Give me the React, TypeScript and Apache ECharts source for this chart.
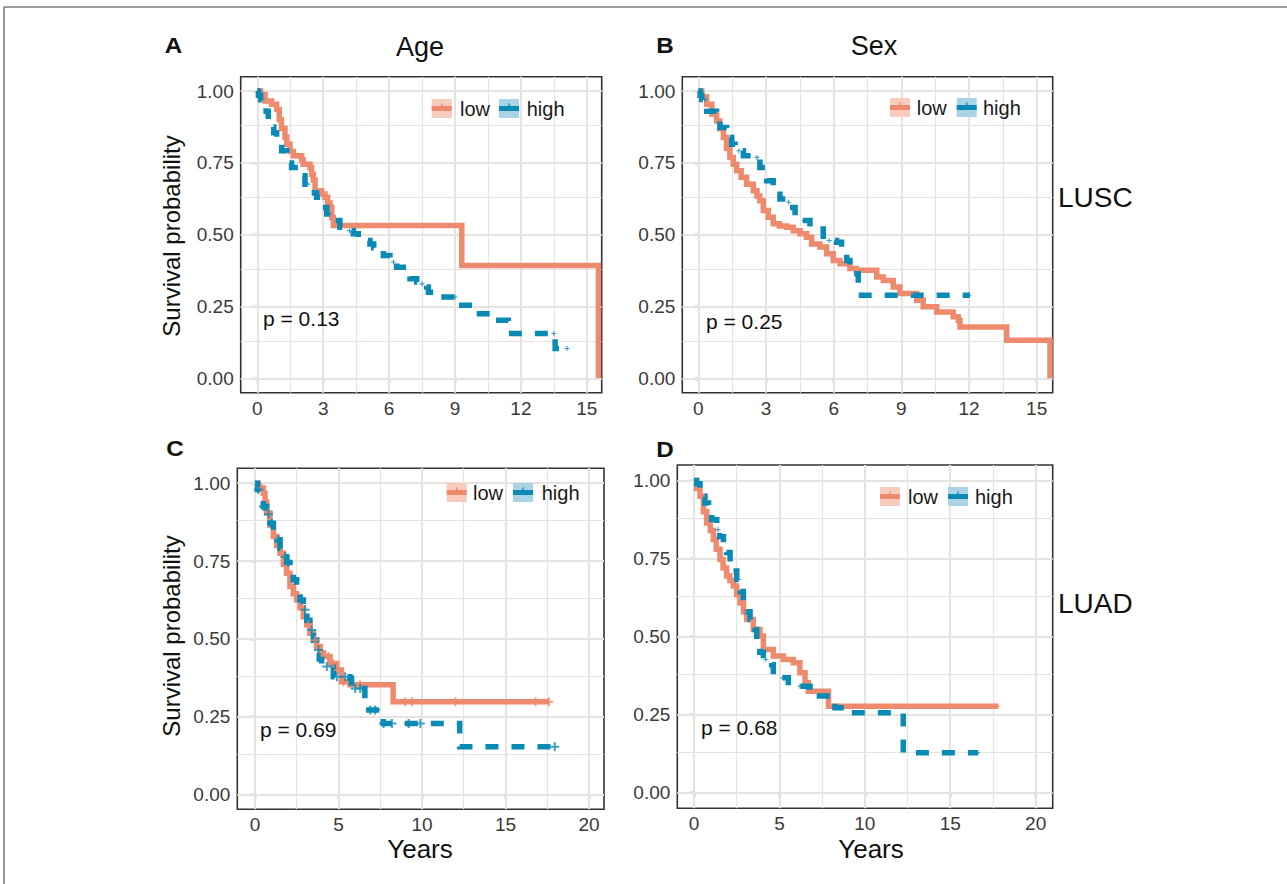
import React, { useEffect, useRef } from "react";
import * as echarts from "echarts";

const FONT = "'Liberation Sans', Arial, Helvetica, sans-serif";
const LOW = "#EE8A6E";
const HIGH = "#0A8BB5";
const LOW_LIGHT = "#F8CCBC";
const HIGH_LIGHT = "#A8D4E6";
const GRID = "#E7E3E1";

// ---- Data (time in years, survival probability) ----
const lowA = [[0,1],[0.15,0.988],[0.35,0.965],[0.65,0.954],[0.88,0.936],[1.0,0.9],[1.1,0.87],[1.26,0.84],[1.34,0.815],[1.49,0.79],[1.64,0.775],[2.02,0.76],[2.09,0.745],[2.4,0.734],[2.47,0.71],[2.55,0.69],[2.63,0.653],[2.93,0.642],[3.08,0.63],[3.2,0.61],[3.31,0.595],[3.39,0.56],[3.46,0.532],[9.31,0.393],[15.53,0.0]];
const highA = [[0,1],[0.05,0.985],[0.15,0.97],[0.27,0.95],[0.4,0.93],[0.5,0.9],[0.58,0.875],[0.75,0.855],[0.88,0.838],[1.0,0.815],[1.11,0.792],[1.34,0.769],[1.45,0.75],[1.56,0.734],[1.87,0.705],[2.17,0.676],[2.47,0.665],[2.6,0.645],[2.7,0.63],[2.93,0.595],[3.16,0.572],[3.46,0.549],[3.76,0.526],[4.07,0.514],[4.37,0.503],[4.6,0.49],[4.83,0.48],[5.13,0.468],[5.3,0.455],[5.43,0.445],[5.74,0.428],[6.04,0.405],[6.35,0.387],[6.65,0.364],[6.95,0.347],[7.26,0.335],[7.5,0.329],[7.71,0.318],[7.79,0.3],[8.32,0.283],[9.08,0.254],[9.91,0.225],[10.6,0.202],[11.43,0.156],[13.56,0.104],[14.1,0.104]];
const lowB = [[0,1],[0.15,0.98],[0.37,0.954],[0.6,0.92],[0.81,0.896],[0.95,0.87],[1.11,0.838],[1.25,0.8],[1.4,0.769],[1.55,0.745],[1.7,0.723],[1.9,0.7],[2.14,0.676],[2.44,0.653],[2.6,0.635],[2.73,0.618],[2.88,0.584],[3.1,0.561],[3.32,0.538],[3.6,0.53],[3.92,0.526],[4.21,0.514],[4.51,0.503],[4.8,0.491],[5.02,0.468],[5.39,0.457],[5.69,0.434],[5.98,0.41],[6.28,0.399],[6.72,0.382],[7.0,0.376],[7.91,0.353],[8.2,0.341],[8.64,0.318],[8.94,0.295],[9.68,0.272],[9.97,0.249],[10.57,0.231],[11.3,0.214],[11.52,0.202],[11.6,0.179],[13.67,0.133],[15.59,0.0]];
const highB = [[0,1],[0.08,0.985],[0.15,0.971],[0.37,0.93],[0.81,0.908],[0.96,0.873],[1.26,0.838],[1.48,0.815],[1.63,0.792],[2.0,0.775],[2.59,0.769],[2.73,0.734],[3.03,0.688],[3.32,0.653],[3.62,0.624],[3.99,0.613],[4.06,0.595],[4.29,0.566],[4.51,0.549],[4.95,0.52],[5.54,0.48],[6.13,0.474],[6.35,0.445],[6.58,0.41],[6.72,0.376],[6.75,0.364],[7.09,0.289],[12.04,0.289]];
const lowC = [[0,1],[0.2,0.985],[0.5,0.968],[0.6,0.94],[0.7,0.904],[0.9,0.865],[1.1,0.829],[1.3,0.8],[1.5,0.775],[1.7,0.74],[1.89,0.711],[2.09,0.668],[2.3,0.645],[2.49,0.625],[2.7,0.6],[2.89,0.571],[3.1,0.545],[3.29,0.518],[3.5,0.495],[3.69,0.475],[3.9,0.455],[4.09,0.443],[4.49,0.421],[4.89,0.4],[5.18,0.362],[5.68,0.352],[8.27,0.298],[17.6,0.298]];
const highC = [[0,1],[0.15,0.98],[0.3,0.957],[0.5,0.925],[0.7,0.9],[0.9,0.871],[1.1,0.845],[1.3,0.818],[1.5,0.79],[1.69,0.764],[1.9,0.745],[2.09,0.721],[2.3,0.69],[2.49,0.657],[2.7,0.625],[2.89,0.593],[3.1,0.56],[3.29,0.528],[3.5,0.495],[3.69,0.464],[3.85,0.435],[3.99,0.411],[4.69,0.378],[5.68,0.373],[5.78,0.34],[6.58,0.271],[7.68,0.228],[12.26,0.153],[17.95,0.153]];
const lowD = [[0,1],[0.15,0.975],[0.35,0.95],[0.55,0.9],[0.74,0.864],[0.95,0.84],[1.13,0.811],[1.3,0.78],[1.52,0.747],[1.7,0.72],[1.91,0.694],[2.1,0.68],[2.3,0.662],[2.5,0.635],[2.69,0.608],[2.9,0.58],[3.08,0.555],[3.47,0.523],[3.86,0.502],[4.06,0.459],[4.64,0.438],[5.23,0.427],[5.81,0.416],[6.2,0.384],[6.5,0.352],[6.69,0.325],[7.87,0.277],[17.81,0.277]];
const highD = [[0,1],[0.15,0.99],[0.35,0.977],[0.5,0.95],[0.64,0.928],[0.85,0.9],[1.03,0.875],[1.33,0.843],[1.5,0.82],[1.72,0.8],[1.9,0.77],[2.11,0.736],[2.3,0.71],[2.5,0.683],[2.7,0.645],[2.89,0.608],[3.1,0.58],[3.28,0.555],[3.57,0.523],[3.67,0.48],[3.85,0.45],[4.06,0.427],[4.55,0.41],[4.64,0.368],[5.52,0.341],[6.79,0.31],[8.25,0.272],[8.94,0.256],[12.25,0.128],[16.64,0.128]];

// censoring times
const censorLowA = [1.8, 2.2, 3.0, 4.0, 5.0, 15.0];
const censorHighA = [0.2, 1.2, 2.3, 3.3, 4.2, 5.2, 6.2, 7.5, 8.5, 9.0, 10.3, 11.0, 13.5, 14.1];
const censorLowB = [0.5, 2.0, 3.7, 5.5, 9.4];
const censorHighB = [0.3, 0.7, 1.2, 1.8, 2.6, 3.3, 4.0, 4.7, 5.8, 6.65, 7.3, 12.0];
const censorLowC = [0.4, 0.8, 1.2, 1.6, 2.0, 2.4, 2.8, 3.2, 3.6, 4.0, 4.4, 4.7, 5.0, 5.3, 6.3, 9.0, 9.4, 12.0, 16.8, 17.6];
const censorHighC = [0.2, 0.5, 0.8, 1.0, 1.4, 1.8, 2.0, 2.4, 2.8, 3.0, 3.4, 3.8, 4.3, 4.9, 5.4, 6.0, 6.3, 6.9, 7.2, 7.7, 8.2, 9.2, 9.9, 17.95];
const censorLowD = [0.5, 1.5, 3.0, 5.0, 17.8];
const censorHighD = [0.3, 0.8, 1.4, 2.0, 2.6, 3.2, 4.2, 5.2, 6.2, 8.6, 16.6];

const xTicksAB = [0, 3, 6, 9, 12, 15];
const xMinorAB = [1.5, 4.5, 7.5, 10.5, 13.5];
const xTicksCD = [0, 5, 10, 15, 20];
const xMinorCD = [2.5, 7.5, 12.5, 17.5];
const yTicks = [0, 0.25, 0.5, 0.75, 1];
const yMinor = [0.125, 0.375, 0.625, 0.875];
const pValues = ["p = 0.13", "p = 0.25", "p = 0.69", "p = 0.68"];
const panelLetters = ["A", "B", "C", "D"];
const colTitles = ["Age", "Sex"];
const rowTitles = ["LUSC", "LUAD"];
const groups = ["low", "high"];
const yTitle = "Survival probability";
const xTitle = "Years";

const PLUS = "path://M3.5,0H5.5V3.5H9V5.5H5.5V9H3.5V5.5H0V3.5H3.5Z";

function survAt(curve: number[][], t: number) {
  let s = curve[0][1];
  for (const [x, y] of curve) {
    if (x <= t) s = y;
    else break;
  }
  return s;
}

const panels = [
  { low: lowA, high: highA, cl: censorLowA, ch: censorHighA, xr: [-0.756, 15.68], yr: [-0.05, 1.05], ticks: xTicksAB, minor: xMinorAB, cs: 5,
    grid: { left: 240.7, top: 76.7, width: 361, height: 316 }, legend: [431.7, 460, 499, 526.7, 99], p: [263, 318.5] },
  { low: lowB, high: highB, cl: censorLowB, ch: censorHighB, xr: [-0.71, 15.71], yr: [-0.05, 1.05], ticks: xTicksAB, minor: xMinorAB, cs: 5,
    grid: { left: 682.3, top: 76.7, width: 370.4, height: 316 }, legend: [890, 916.7, 956.7, 983, 98], p: [706, 321.5] },
  { low: lowC, high: highC, cl: censorLowC, ch: censorHighC, xr: [-1.06, 20.9], yr: [-0.048, 1.048], ticks: xTicksCD, minor: xMinorCD, cs: 9,
    grid: { left: 237.3, top: 468.3, width: 366.7, height: 341 }, legend: [446.7, 473, 513, 541.7, 483], p: [260, 729] },
  { low: lowD, high: highD, cl: censorLowD, ch: censorHighD, xr: [-0.98, 21.0], yr: [-0.05, 1.05], ticks: xTicksCD, minor: xMinorCD, cs: 5,
    grid: { left: 677.3, top: 465, width: 375.4, height: 343.3 }, legend: [880, 908, 948, 975, 487], p: [701, 727] },
];

function legendGraphic(l: number[]) {
  const [k1, t1, k2, t2, top] = l;
  const txt = (x: number, s: string) => ({
    type: "text", x, y: top + 9.5, z: 20,
    style: { text: s, font: `20px ${FONT}`, fill: "#1a1a1a", align: "left", verticalAlign: "middle" },
  });
  const key = (x: number, light: string, dark: string) => [
    { type: "rect", z: 20, shape: { x, y: top, width: 20, height: 19 }, style: { fill: light } },
    { type: "rect", z: 21, shape: { x, y: top + 7, width: 20, height: 5 }, style: { fill: dark } },
    { type: "rect", z: 21, shape: { x: x + 9.3, y: top + 4.5, width: 1.4, height: 3 }, style: { fill: dark } },
  ];
  return [...key(k1, LOW_LIGHT, LOW), txt(t1, groups[0]), ...key(k2, HIGH_LIGHT, HIGH), txt(t2, groups[1])];
}

function buildOption() {
  const series: any[] = [];
  panels.forEach((p, i) => {
    const gl = (axis: string, v: number, w: number) => ({ [axis]: v, lineStyle: { color: GRID, width: w, type: "solid" } });
    series.push({
      type: "line", xAxisIndex: i, yAxisIndex: i, data: [], silent: true,
      markLine: {
        silent: true, symbol: ["none", "none"], z: 1, label: { show: false },
        emphasis: { disabled: true },
        data: [
          ...p.minor.map((v) => gl("xAxis", v, 1.2)),
          ...yMinor.map((v) => gl("yAxis", v, 1.2)),
          ...p.ticks.map((v) => gl("xAxis", v, 2.2)),
          ...yTicks.map((v) => gl("yAxis", v, 2.2)),
        ],
      },
    });
    series.push({
      name: groups[0], type: "line", step: "end", xAxisIndex: i, yAxisIndex: i, data: p.low,
      symbol: "none", z: 3, lineStyle: { color: LOW, width: 5.5, cap: "butt", join: "miter" },
    });
    series.push({
      name: groups[1], type: "line", step: "end", xAxisIndex: i, yAxisIndex: i, data: p.high,
      symbol: "none", z: 4, lineStyle: { color: HIGH, width: 5.5, type: [13, 13], cap: "butt", join: "miter" },
    });
    series.push({
      type: "scatter", xAxisIndex: i, yAxisIndex: i, z: 5, symbol: PLUS, symbolSize: p.cs,
      itemStyle: { color: LOW }, data: p.cl.map((t) => [t, survAt(p.low, t)]),
    });
    series.push({
      type: "scatter", xAxisIndex: i, yAxisIndex: i, z: 6, symbol: PLUS, symbolSize: p.cs,
      itemStyle: { color: HIGH }, data: p.ch.map((t) => [t, survAt(p.high, t)]),
    });
  });

  const labelStyle = { color: "#3a3a3a", fontSize: 19, fontFamily: FONT };
  const tickStyle = { color: "#333", width: 1.3 };

  const graphic: any[] = [
    { type: "line", shape: { x1: 4, y1: 7, x2: 1287, y2: 7 }, style: { stroke: "#777", lineWidth: 1.5 } },
    { type: "line", shape: { x1: 4, y1: 7, x2: 4, y2: 884 }, style: { stroke: "#777", lineWidth: 1.5 } },
  ];
  const T = (text: string, x: number, y: number, size: number, extra: any = {}) => ({
    type: "text", x, y, z: 20, rotation: extra.rotation || 0, scaleX: extra.scaleX || 1,
    style: { text, font: `${extra.bold ? "bold " : ""}${size}px ${FONT}`, fill: "#111", align: extra.align || "center", verticalAlign: "middle" },
  });
  const letter = { bold: true, scaleX: 1.1 };
  graphic.push(T(panelLetters[0], 173.5, 45.5, 22, letter));
  graphic.push(T(panelLetters[1], 665, 45.5, 22, letter));
  graphic.push(T(panelLetters[2], 175, 448.5, 22, letter));
  graphic.push(T(panelLetters[3], 665, 449.5, 22, letter));
  graphic.push(T(colTitles[0], 420, 46.5, 27));
  graphic.push(T(colTitles[1], 874, 46.3, 27));
  graphic.push(T(rowTitles[0], 1058, 197, 28, { align: "left" }));
  graphic.push(T(rowTitles[1], 1058, 603, 28, { align: "left" }));
  graphic.push(T(xTitle, 420, 849, 26));
  graphic.push(T(xTitle, 871, 849, 26));
  graphic.push(T(yTitle, 171, 236, 24, { rotation: Math.PI / 2 }));
  graphic.push(T(yTitle, 171, 636, 24, { rotation: Math.PI / 2 }));
  panels.forEach((p, i) => {
    graphic.push(T(pValues[i], p.p[0], p.p[1], 21, { align: "left" }));
    graphic.push(...legendGraphic(p.legend));
  });

  return {
    animation: false,
    backgroundColor: "#ffffff",
    grid: panels.map((p) => ({ ...p.grid, show: true, borderColor: "#333", borderWidth: 1.6, containLabel: false, outerBoundsMode: "none" })),
    xAxis: panels.map((p, i) => ({
      type: "value", gridIndex: i, min: p.xr[0], max: p.xr[1],
      axisLine: { show: false }, splitLine: { show: false },
      axisTick: { show: true, customValues: p.ticks, length: 4, lineStyle: tickStyle },
      axisLabel: { ...labelStyle, customValues: p.ticks, margin: 6, formatter: (v: number) => String(v) },
    })),
    yAxis: panels.map((p, i) => ({
      type: "value", gridIndex: i, min: p.yr[0], max: p.yr[1],
      axisLine: { show: false }, splitLine: { show: false },
      axisTick: { show: true, customValues: yTicks, length: 4, lineStyle: tickStyle },
      axisLabel: { ...labelStyle, customValues: yTicks, margin: 7, formatter: (v: number) => v.toFixed(2) },
    })),
    series,
    graphic,
  };
}

export default function App() {
  const ref = useRef<HTMLDivElement>(null);
  useEffect(() => {
    if (!ref.current) return;
    const chart = echarts.init(ref.current, null, { renderer: "svg" });
    chart.setOption(buildOption() as any);
    return () => chart.dispose();
  }, []);
  return <div ref={ref} style={{ position: "fixed", left: 0, top: 0, width: 1287, height: 884, background: "#fff" }} />;
}
